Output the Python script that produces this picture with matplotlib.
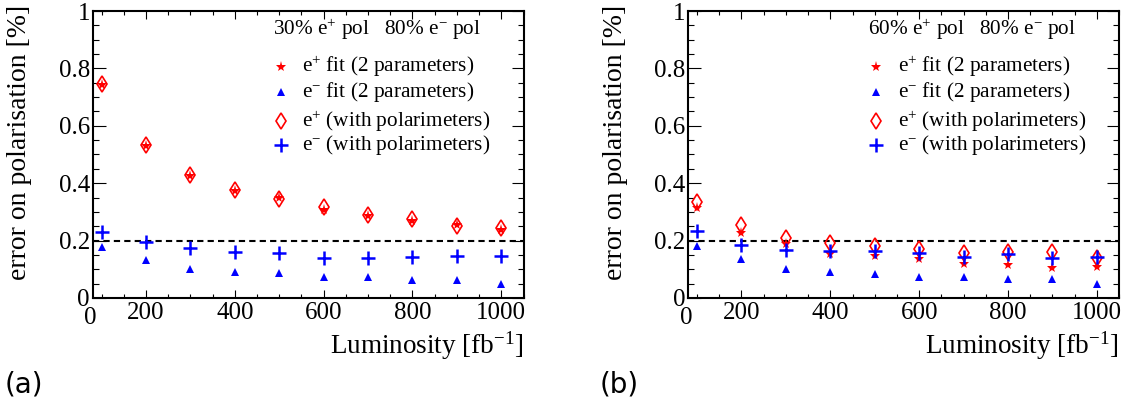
import matplotlib
matplotlib.use('Agg')
import matplotlib.pyplot as plt
from matplotlib.ticker import MultipleLocator, FormatStrFormatter

plt.rcParams['font.family'] = ['Liberation Serif', 'DejaVu Serif']
plt.rcParams['mathtext.fontset'] = 'custom'
plt.rcParams['mathtext.rm'] = 'Liberation Serif'
plt.rcParams['mathtext.it'] = 'Liberation Serif:italic'

# luminosity points [fb^-1]
lumi = [100, 200, 300, 400, 500, 600, 700, 800, 900, 1000]

# (a) 30% e+ pol, 80% e- pol
a_pos_fit = [0.742, 0.528, 0.425, 0.372, 0.350, 0.308, 0.285, 0.270, 0.256, 0.237]
a_pos_pol = [0.746, 0.533, 0.429, 0.375, 0.344, 0.318, 0.288, 0.275, 0.252, 0.245]
a_ele_fit = [0.179, 0.133, 0.102, 0.091, 0.086, 0.072, 0.072, 0.064, 0.064, 0.049]
a_ele_pol = [0.231, 0.196, 0.173, 0.161, 0.158, 0.141, 0.141, 0.144, 0.146, 0.146]

# (b) 60% e+ pol, 80% e- pol
b_pos_fit = [0.312, 0.228, 0.187, 0.153, 0.147, 0.136, 0.117, 0.115, 0.103, 0.107]
b_pos_pol = [0.336, 0.254, 0.210, 0.190, 0.181, 0.171, 0.156, 0.159, 0.159, 0.141]
b_ele_fit = [0.181, 0.135, 0.102, 0.091, 0.085, 0.072, 0.072, 0.065, 0.065, 0.049]
b_ele_pol = [0.233, 0.185, 0.167, 0.164, 0.165, 0.158, 0.144, 0.153, 0.140, 0.144]

headers = ['30% e$^{+}$ pol   80% e$^{-}$ pol', '60% e$^{+}$ pol   80% e$^{-}$ pol']
panel_tags = ['(a)', '(b)']
labels = ['e$^{+}$ fit (2 parameters)', 'e$^{-}$ fit (2 parameters)',
          'e$^{+}$ (with polarimeters)', 'e$^{-}$ (with polarimeters)']
limit = 0.2

RED = '#ff0000'
BLUE = '#0000ff'
styles = [dict(marker='*', color=RED, ms=8, mew=0, ls='none'),
          dict(marker='^', color=BLUE, ms=6, mew=0, ls='none'),
          dict(marker='d', mfc='none', mec=RED, ms=8.5, mew=1.2, ls='none'),
          dict(marker='+', color=BLUE, ms=10, mew=1.8, ls='none')]

TICK_FS = 18
TITLE_FS = 19.5
LEG_FS = 15.3


def draw_panel(ax, series, header, tag):
    # data points
    for ys, st in zip(series, styles):
        ax.plot(lumi, ys, clip_on=False, zorder=3, **st)
    ax.axhline(limit, color='k', lw=1.5, ls=(0, (3, 2)), zorder=2)

    ax.set_xlim(80, 1050)
    ax.set_ylim(0, 1)
    ax.xaxis.set_major_locator(MultipleLocator(200))
    ax.xaxis.set_minor_locator(MultipleLocator(50))
    ax.yaxis.set_major_locator(MultipleLocator(0.2))
    ax.yaxis.set_minor_locator(MultipleLocator(0.05))
    ax.yaxis.set_major_formatter(FormatStrFormatter('%g'))
    ax.tick_params(which='both', direction='in', top=True, right=True,
                   labelsize=TICK_FS, width=0.8)
    ax.tick_params(axis='x', which='major', length=6, pad=3)
    ax.tick_params(axis='x', which='minor', length=3)
    ax.tick_params(axis='y', which='major', length=9, pad=2)
    ax.tick_params(axis='y', which='minor', length=4.5)
    for s in ax.spines.values():
        s.set_linewidth(1.5)
    # ROOT-style "0" at the x-axis corner
    ax.text(-0.005, -0.03, '0', transform=ax.transAxes, ha='center', va='top', fontsize=TICK_FS)

    ax.set_xlabel('Luminosity [fb$^{-1}$]', fontsize=TITLE_FS, loc='right', labelpad=4)
    ax.set_ylabel('error on polarisation [%]', fontsize=TITLE_FS + 0.5, loc='top')
    ax.yaxis.set_label_coords(-0.14, 1.02)

    # header + hand-made legend
    ax.text(0.418, 0.934, header, transform=ax.transAxes, ha='left', va='center', fontsize=LEG_FS)
    rows = [0.806, 0.718, 0.615, 0.533]
    for yy, lab, st in zip(rows, labels, styles):
        ax.plot([0.436], [yy], transform=ax.transAxes, clip_on=False, **st)
        ax.text(0.486, yy, lab, transform=ax.transAxes, ha='left', va='center', fontsize=LEG_FS)

    ax.text(-0.205, -0.303, tag, transform=ax.transAxes, ha='left', va='center',
            fontsize=20, family='DejaVu Sans')


fig = plt.figure(figsize=(11.3, 4.09), dpi=100)
ax1 = fig.add_axes([0.082, 0.2714, 0.3813, 0.7017])
ax2 = fig.add_axes([0.609, 0.2714, 0.3813, 0.7017])

draw_panel(ax1, [a_pos_fit, a_ele_fit, a_pos_pol, a_ele_pol], headers[0], panel_tags[0])
draw_panel(ax2, [b_pos_fit, b_ele_fit, b_pos_pol, b_ele_pol], headers[1], panel_tags[1])

fig.savefig('out.png', dpi=100)
